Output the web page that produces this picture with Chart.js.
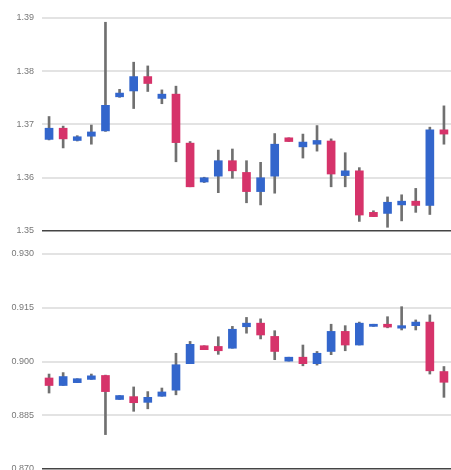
<!DOCTYPE html>
<html>
<head>
<meta charset="utf-8">
<script src="https://cdn.jsdelivr.net/npm/chart.js@4.4.1/dist/chart.umd.min.js"></script>
<style>
    html, body { margin: 0; padding: 0; background: #fff; overflow: hidden; }
    #wrap { position: relative; width: 451px; height: 470px; overflow: hidden; }
    canvas { position: absolute; left: 0; }
    #topChart { top: 0; }
    #bottomChart { top: 235px; }
</style>
</head>
<body>
<div id="wrap">
    <canvas id="topChart" width="451" height="245"></canvas>
    <canvas id="bottomChart" width="451" height="250"></canvas>
</div>
<script>
var days = ['1', '2', '3', '4', '5', '6', '7', '8', '9', '10', '11', '12', '13', '14', '15',
            '16', '17', '18', '19', '20', '21', '22', '23', '24', '25', '26', '27', '28', '29'];

// top pair
var topOpen  = [1.3672, 1.3693, 1.3670, 1.3678, 1.3688, 1.3752, 1.3763, 1.3790, 1.3749, 1.3757,
                1.3665, 1.3592, 1.3603, 1.3632, 1.3610, 1.3574, 1.3603, 1.3675, 1.3658, 1.3663,
                1.3669, 1.3604, 1.3613, 1.3535, 1.3533, 1.3549, 1.3556, 1.3548, 1.3690];
var topHigh  = [1.3715, 1.3697, 1.3679, 1.3699, 1.3892, 1.3766, 1.3817, 1.3810, 1.3765, 1.3772,
                1.3668, 1.3601, 1.3652, 1.3654, 1.3632, 1.3629, 1.3683, 1.3675, 1.3682, 1.3698,
                1.3673, 1.3647, 1.3619, 1.3538, 1.3564, 1.3568, 1.3580, 1.3695, 1.3735];
var topLow   = [1.3671, 1.3656, 1.3669, 1.3663, 1.3687, 1.3751, 1.3730, 1.3762, 1.3739, 1.3630,
                1.3583, 1.3591, 1.3572, 1.3599, 1.3553, 1.3549, 1.3571, 1.3668, 1.3637, 1.3650,
                1.3583, 1.3583, 1.3518, 1.3527, 1.3507, 1.3519, 1.3535, 1.3531, 1.3663];
var topClose = [1.3693, 1.3673, 1.3677, 1.3686, 1.3736, 1.3759, 1.3790, 1.3777, 1.3757, 1.3666,
                1.3583, 1.3600, 1.3632, 1.3613, 1.3574, 1.3600, 1.3663, 1.3668, 1.3667, 1.3670,
                1.3607, 1.3613, 1.3530, 1.3527, 1.3554, 1.3556, 1.3548, 1.3690, 1.3682];
var topTicks = [1.35, 1.36, 1.37, 1.38, 1.39];

// bottom pair
var botOpen  = [0.8954, 0.8933, 0.8941, 0.8950, 0.8961, 0.8894, 0.8902, 0.8886, 0.8903, 0.8920,
                0.8994, 0.9044, 0.9042, 0.9037, 0.9097, 0.9107, 0.9070, 0.9001, 0.9012, 0.8994,
                0.9028, 0.9084, 0.9046, 0.9098, 0.9104, 0.9093, 0.9100, 0.9110, 0.8972];
var botHigh  = [0.8965, 0.8969, 0.8952, 0.8965, 0.8962, 0.8905, 0.8929, 0.8916, 0.8926, 0.9023,
                0.9056, 0.9044, 0.9069, 0.9098, 0.9123, 0.9119, 0.9086, 0.9012, 0.9046, 0.9028,
                0.9104, 0.9100, 0.9110, 0.9104, 0.9125, 0.9153, 0.9116, 0.9130, 0.8986];
var botLow   = [0.8912, 0.8933, 0.8941, 0.8950, 0.8796, 0.8894, 0.8861, 0.8868, 0.8903, 0.8907,
                0.8994, 0.9033, 0.9020, 0.9037, 0.9079, 0.9063, 0.9005, 0.9001, 0.8988, 0.8990,
                0.9019, 0.9030, 0.9046, 0.9098, 0.9094, 0.9088, 0.9088, 0.8965, 0.8900];
var botClose = [0.8933, 0.8958, 0.8952, 0.8960, 0.8916, 0.8905, 0.8885, 0.8900, 0.8915, 0.8991,
                0.9048, 0.9033, 0.9030, 0.9090, 0.9107, 0.9074, 0.9028, 0.9012, 0.8994, 0.9023,
                0.9084, 0.9046, 0.9107, 0.9104, 0.9096, 0.9100, 0.9110, 0.8974, 0.8942];
var botTicks = [0.870, 0.885, 0.900, 0.915, 0.930];

var upColor = '#3366cc';
var downColor = '#d6336a';
var wickColor = '#707070';

drawCandleChart('topChart', topOpen, topHigh, topLow, topClose, topTicks, 2, 18, 14);
drawCandleChart('bottomChart', botOpen, botHigh, botLow, botClose, botTicks, 3, 19, 16);

function drawCandleChart(canvasId, open, high, low, close, ticks, decimals, padTop, padBottom) {
    var ctx = document.getElementById(canvasId).getContext('2d');

    var wicks = [];
    var bodies = [];
    var colors = [];
    for (var i = 0; i < open.length; ++i) {
        wicks.push([low[i], high[i]]);
        bodies.push([open[i], close[i]]);
        colors.push(close[i] >= open[i] ? upColor : downColor);
    }

    var yMin = ticks[0];
    var yMax = ticks[ticks.length - 1];

    new Chart(ctx, {
        type: 'bar',
        data: {
            labels: days,
            datasets: [
                {
                    label: 'wick',
                    data: wicks,
                    backgroundColor: wickColor,
                    barThickness: 2,
                    grouped: false,
                    order: 2
                },
                {
                    label: 'body',
                    data: bodies,
                    backgroundColor: colors,
                    barThickness: 8,
                    grouped: false,
                    order: 1
                }
            ]
        },
        options: {
            responsive: false,
            animation: false,
            devicePixelRatio: 1,
            layout: {
                padding: { top: padTop, bottom: padBottom, left: 0, right: 0 }
            },
            plugins: {
                legend: { display: false },
                tooltip: { enabled: false }
            },
            scales: {
                x: {
                    display: false,
                    offset: true
                },
                y: {
                    min: yMin,
                    max: yMax,
                    afterFit: function (scale) { scale.width = 42; },
                    afterBuildTicks: function (scale) {
                        scale.ticks = ticks.map(function (v) { return { value: v }; });
                    },
                    border: { display: false },
                    grid: {
                        drawTicks: false,
                        lineWidth: function (c) { return c.tick && c.tick.value === yMin ? 1.5 : 2; },
                        color: function (c) { return c.tick && c.tick.value === yMin ? '#444' : '#e3e3e3'; }
                    },
                    ticks: {
                        padding: 8,
                        color: '#777',
                        font: { family: 'Liberation Sans, Arial, sans-serif', size: 9 },
                        callback: function (v) { return Number(v).toFixed(decimals); }
                    }
                }
            }
        }
    });
}
</script>
</body>
</html>
